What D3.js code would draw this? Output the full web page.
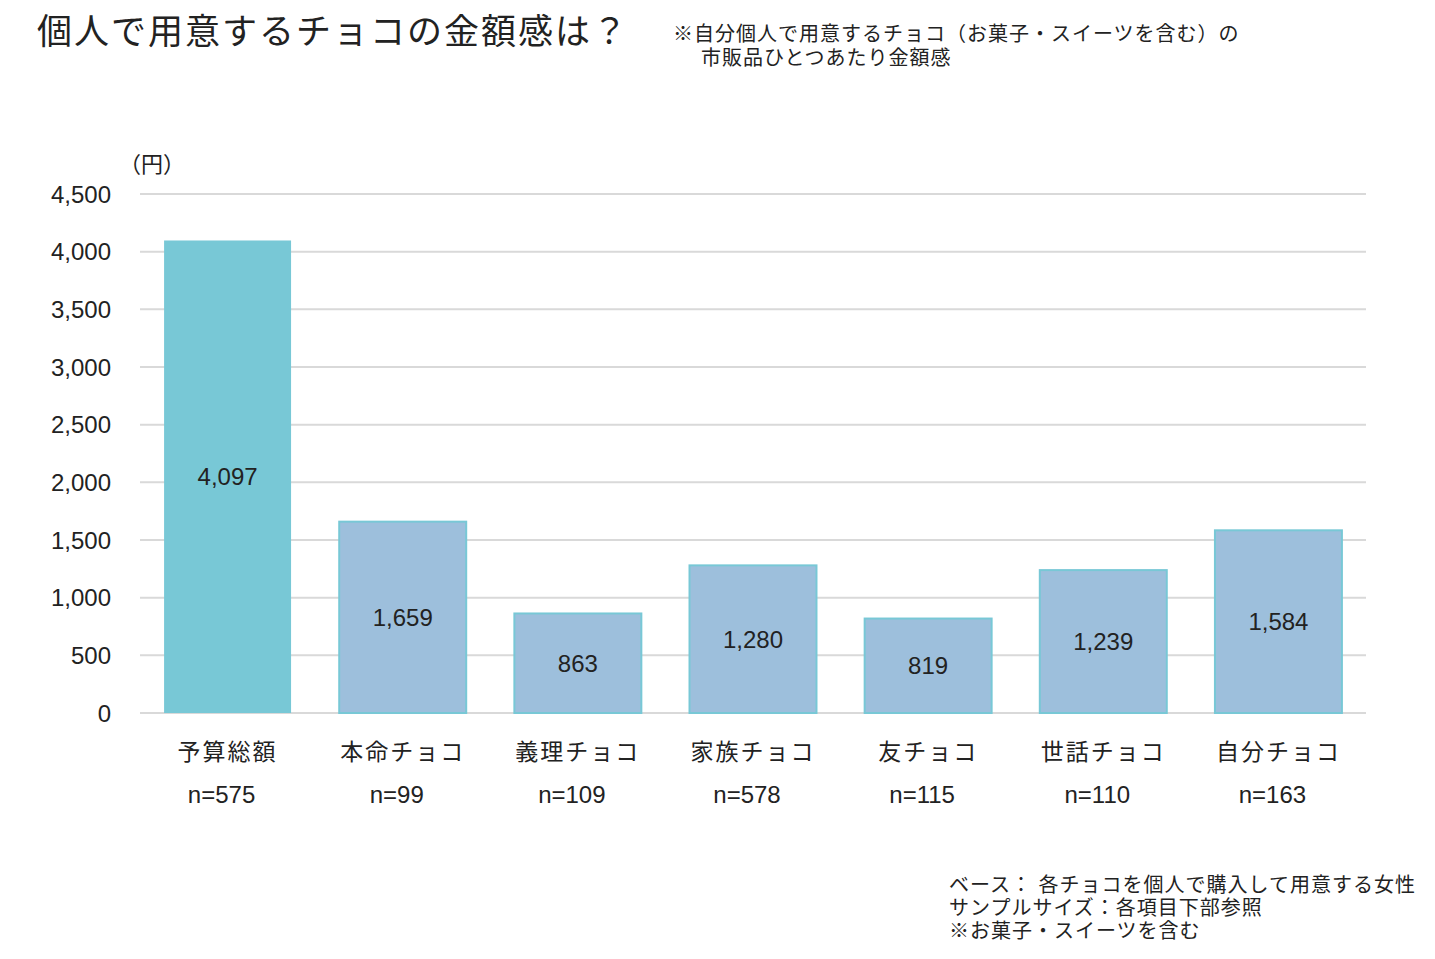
<!DOCTYPE html>
<html><head><meta charset="utf-8">
<script src="https://cdn.jsdelivr.net/npm/d3@7"></script>
<style>
body{margin:0;background:#fff;}
text{font-family:"Liberation Sans","Noto Sans CJK JP",sans-serif;fill:#222;}
</style></head>
<body>
<svg id="c" width="1435" height="959"></svg>
<script>
const categories = ["予算総額","本命チョコ","義理チョコ","家族チョコ","友チョコ","世話チョコ","自分チョコ"];
const values = [4097,1659,863,1280,819,1239,1584];
const sampleSizes = ["n=575","n=99","n=109","n=578","n=115","n=110","n=163"];
const yTicks = [0,500,1000,1500,2000,2500,3000,3500,4000,4500];
const title = "個人で用意するチョコの金額感は？";
const subtitle = ["※自分個人で用意するチョコ（お菓子・スイーツを含む）の","市販品ひとつあたり金額感"];
const footnotes = ["ベース：  各チョコを個人で購入して用意する女性","サンプルサイズ：各項目下部参照","※お菓子・スイーツを含む"];

const svg = d3.select("#c");
const x = d3.scaleBand().domain(categories).range([140,1366]).paddingInner(0.275).paddingOuter(0.1375);
const y = d3.scaleLinear().domain([0,4500]).range([713,194]);

svg.append("g").selectAll("line").data(yTicks).join("line")
  .attr("x1",140).attr("x2",1366).attr("y1",d=>y(d)).attr("y2",d=>y(d))
  .attr("stroke","#d9d9d9").attr("stroke-width",2);

svg.append("g").selectAll("text").data(yTicks).join("text")
  .attr("x",111).attr("y",d=>y(d)).attr("dy","0.36em").attr("text-anchor","end")
  .style("font-size","24px").text(d=>d3.format(",")(d));

svg.append("text").attr("x",119).attr("y",172).style("font-size","22px").text("（円）");

svg.append("g").selectAll("rect").data(values).join("rect")
  .attr("x",(d,i)=>x(categories[i])).attr("width",x.bandwidth())
  .attr("y",d=>y(d)).attr("height",d=>y(0)-y(d))
  .attr("fill",(d,i)=>i===0?"#78c8d6":"#9dbfdc")
  .attr("stroke",(d,i)=>i===0?"none":"#78c8d6").attr("stroke-width",2);

svg.append("g").selectAll("text").data(values).join("text")
  .attr("x",(d,i)=>x(categories[i])+x.bandwidth()/2)
  .attr("y",d=>(y(d)+y(0))/2).attr("dy","0.36em").attr("text-anchor","middle")
  .style("font-size","24px").text(d=>d3.format(",")(d));

svg.append("g").selectAll("text").data(categories).join("text")
  .attr("x",d=>x(d)+x.bandwidth()/2).attr("y",760).attr("text-anchor","middle")
  .style("font-size","23px").style("letter-spacing","2px").text(d=>d);

svg.append("g").selectAll("text").data(sampleSizes).join("text")
  .attr("x",(d,i)=>x(categories[i])+x.bandwidth()/2-6).attr("y",803).attr("text-anchor","middle")
  .style("font-size","24px").text(d=>d);

svg.append("text").attr("x",37).attr("y",44).style("font-size","35px").style("letter-spacing","2px").text(title);
svg.append("text").attr("x",673).attr("y",41).style("font-size","20px").style("letter-spacing","1px").text(subtitle[0]);
svg.append("text").attr("x",701).attr("y",65).style("font-size","20px").style("letter-spacing","1px").text(subtitle[1]);

svg.append("g").selectAll("text").data(footnotes).join("text")
  .attr("x",949).attr("y",(d,i)=>892+i*23).style("font-size","20px").style("letter-spacing","1px").text(d=>d);
</script>
</body></html>
